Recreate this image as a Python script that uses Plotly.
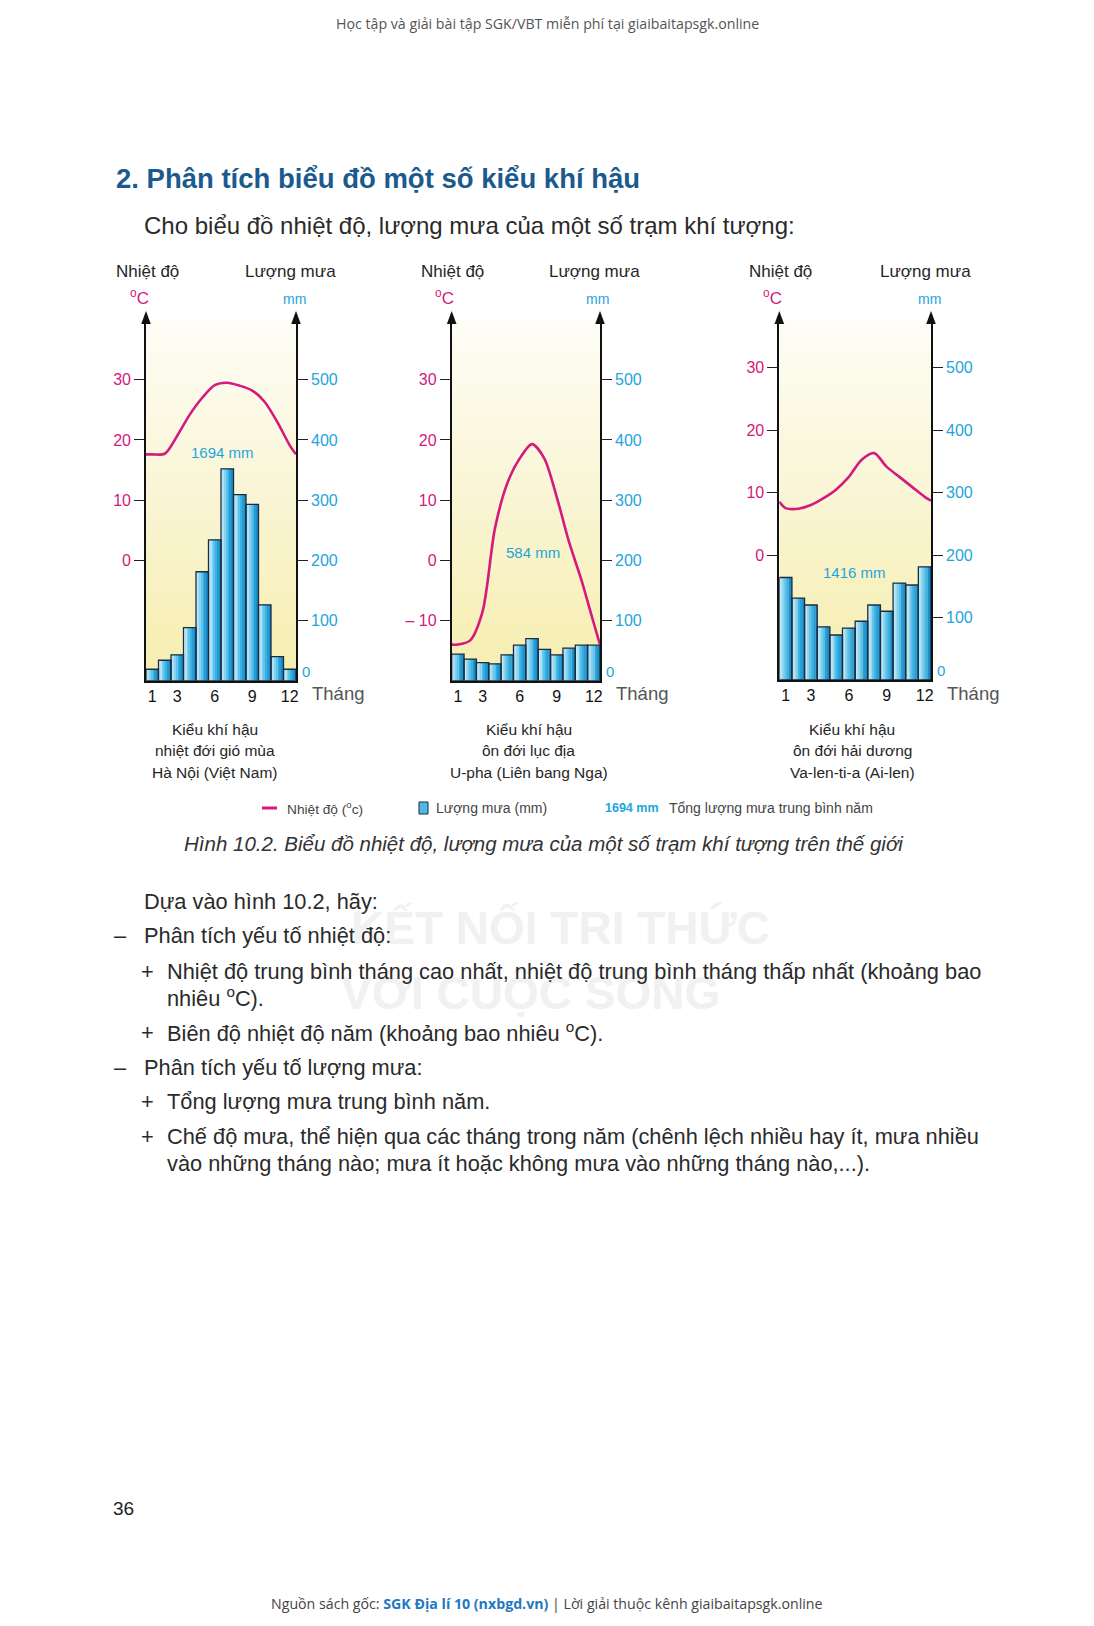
import plotly.graph_objects as go

W, H = 1094, 1626          # page (viewport) size
OFF = 8                    # default body margin of the html page
FW, FH = W - OFF, H - 2 * OFF   # figure size so that the page does not overflow

# ---------------- data ----------------
months = list(range(1, 13))
month_ticks = [1, 3, 6, 9, 12]
rain_ticks = [100, 200, 300, 400, 500]

hanoi_temp = [17.6, 17.7, 20.7, 24.2, 27.0, 29.1, 29.5, 29.0, 28.2, 26.3, 23.0, 19.1]
hanoi_temp_edges = [17.6, 17.6]
hanoi_rain = [19, 34, 43, 88, 181, 234, 352, 309, 293, 126, 40, 19]
hanoi_total = 1694
hanoi_temp_ticks = [0, 10, 20, 30]

ufa_temp = [-14.0, -13.3, -8.5, 5.3, 12.8, 16.9, 19.3, 16.9, 10.5, 3.0, -3.3, -10.5]
ufa_temp_edges = [-14.0, -14.0]
ufa_rain = [44, 36, 30, 28, 43, 59, 70, 52, 43, 54, 59, 59]
ufa_total = 584
ufa_temp_ticks = [-10, 0, 10, 20, 30]

valentia_temp = [7.5, 7.4, 8.0, 9.1, 10.5, 12.5, 15.2, 16.3, 14.1, 12.5, 10.9, 9.3]
valentia_temp_edges = [8.5, 8.7]
valentia_rain = [164, 131, 120, 85, 72, 83, 94, 120, 110, 155, 152, 181]
valentia_total = 1416
valentia_temp_ticks = [0, 10, 20, 30]

climate_types = ["nhiệt đới gió mùa", "ôn đới lục địa", "ôn đới hải dương"]
station_names = ["Hà Nội (Việt Nam)", "U-pha (Liên bang Nga)", "Va-len-ti-a (Ai-len)"]

# ---------------- styles / layout ----------------
ARIAL = "Liberation Sans, Arial, sans-serif"
OPEN = "Open Sans, Noto Sans, sans-serif"
MAGENTA = "#d4197f"
CYAN = "#1ea5dc"
DARK = "#262626"
BAR_SHADES = ["#d2f1fc", "#aee3f7", "#86d3f1", "#5ec2ea", "#3bb0e2", "#229dd6", "#1a8cc8"]
BAR_EDGE = "#1c2b3f"


def px(x):
    return (x - OFF) / FW


def py(y):
    return 1 - (y - OFF) / FH


stations = [
    dict(temp=hanoi_temp, edges=hanoi_temp_edges, rain=hanoi_rain, total=hanoi_total,
         tticks=hanoi_temp_ticks, left=146, right=296, base=680.7, top=320, deg=6.02,
         total_xy=(222, 452), cap_x=214.6),
    dict(temp=ufa_temp, edges=ufa_temp_edges, rain=ufa_rain, total=ufa_total,
         tticks=ufa_temp_ticks, left=451.7, right=600, base=680.7, top=320, deg=6.02,
         total_xy=(532.5, 552), cap_x=528.6),
    dict(temp=valentia_temp, edges=valentia_temp_edges, rain=valentia_rain, total=valentia_total,
         tticks=valentia_temp_ticks, left=779.3, right=931, base=680, top=320, deg=6.25,
         total_xy=(854, 573), cap_x=852),
]

fig = go.Figure()
layout = dict(
    width=FW, height=FH, autosize=False,
    margin=dict(l=0, r=0, t=0, b=0),
    paper_bgcolor="white", plot_bgcolor="rgba(0,0,0,0)",
    showlegend=False, barmode="overlay", template="none",
)
annotations = []
shapes = []

# watermark (drawn first, behind text)
annotations.append(dict(x=px(560), y=py(928), text="<b>KẾT NỐI TRI THỨC</b>",
                        font=dict(family=ARIAL, size=46, color="#f1f1f1")))
annotations.append(dict(x=px(530), y=py(993), text="<b>VỚI CUỘC SỐNG</b>",
                        font=dict(family=ARIAL, size=46, color="#f1f1f1")))

for i, s in enumerate(stations):
    xa = "x" if i == 0 else f"x{i+1}"
    by = "y" if i == 0 else f"y{3*i+1}"
    ry = f"y{3*i+2}"
    ty = f"y{3*i+3}"
    xkey = "xaxis" if i == 0 else f"xaxis{i+1}"
    bkey = "yaxis" if i == 0 else f"yaxis{3*i+1}"
    rkey = f"yaxis{3*i+2}"
    tkey = f"yaxis{3*i+3}"

    span_px = s["base"] - s["top"]
    temp_top = -20 + span_px / s["deg"]
    rain_top = span_px / (s["deg"] / 10)

    # background gradient of plot area (on the hidden base axis, underneath)
    fig.add_trace(go.Scatter(
        x=[0.5, 12.5, 12.5, 0.5, 0.5], y=[0, 0, rain_top, rain_top, 0],
        fill="toself", mode="lines", line=dict(width=0),
        fillgradient=dict(type="vertical",
                          colorscale=[[0, "#f6eeae"], [0.45, "#f9f4d0"], [1, "#fefdf6"]]),
        hoverinfo="skip", xaxis=xa, yaxis=by))

    # rainfall bars (striped to imitate the horizontal gradient)
    n = len(BAR_SHADES)
    for k, c in enumerate(BAR_SHADES):
        fig.add_trace(go.Bar(x=months, y=s["rain"], width=1 / n, offset=-0.5 + k / n,
                             marker=dict(color=c, line=dict(width=0)),
                             xaxis=xa, yaxis=ry, hoverinfo="skip"))
    fig.add_trace(go.Bar(x=months, y=s["rain"], width=1, offset=-0.5,
                         marker=dict(color="rgba(0,0,0,0)", line=dict(color=BAR_EDGE, width=1.3)),
                         xaxis=xa, yaxis=ry))

    # temperature line
    tx = [0.5] + months + [12.5]
    tv = [s["edges"][0]] + s["temp"] + [s["edges"][1]]
    fig.add_trace(go.Scatter(x=tx, y=tv, mode="lines",
                             line=dict(color=MAGENTA, width=2.6, shape="spline", smoothing=0.8),
                             xaxis=xa, yaxis=ty))

    layout[xkey] = dict(domain=[px(s["left"]), px(s["right"])], anchor=by, range=[0.5, 12.5],
                        tickvals=month_ticks, ticktext=[str(m) for m in month_ticks],
                        showline=True, linecolor="#111", linewidth=1.7, ticks="",
                        showgrid=False, zeroline=False, automargin=False,
                        tickfont=dict(family=ARIAL, size=16, color="#111"))
    layout[bkey] = dict(domain=[py(s["base"]), py(s["top"])], anchor=xa, visible=False,
                        range=[0, rain_top], showgrid=False, zeroline=False)
    layout[rkey] = dict(overlaying=by, anchor=xa, side="right",
                        range=[0, rain_top], tickvals=rain_ticks,
                        ticktext=[str(v) for v in rain_ticks],
                        ticks="outside", ticklen=10, tickwidth=1.4, tickcolor="#222",
                        showline=True, linecolor="#111", linewidth=1.7,
                        showgrid=False, zeroline=False, automargin=False,
                        tickfont=dict(family=ARIAL, size=16, color=CYAN))
    layout[tkey] = dict(overlaying=by, anchor=xa, side="left",
                        range=[-20, temp_top], tickvals=s["tticks"],
                        ticktext=[("– " + str(-v)) if v < 0 else str(v) for v in s["tticks"]],
                        ticks="outside", ticklen=10, tickwidth=1.4, tickcolor="#222",
                        showline=True, linecolor="#111", linewidth=1.7,
                        showgrid=False, zeroline=False, automargin=False,
                        tickfont=dict(family=ARIAL, size=16, color=MAGENTA))

    L, R, B = s["left"], s["right"], s["base"]
    # arrow heads
    for ax in (L, R):
        shapes.append(dict(type="path", xref="paper", yref="paper",
                           path=f"M {px(ax-4.8)},{py(324)} L {px(ax)},{py(311)} L {px(ax+4.8)},{py(324)} Z",
                           fillcolor="#111", line=dict(width=0)))
    # axis titles and labels
    annotations += [
        dict(x=px(L + 1), y=py(271), text="Nhiệt độ", font=dict(family=ARIAL, size=17, color=DARK)),
        dict(x=px(R - 6), y=py(271), text="Lượng mưa", font=dict(family=ARIAL, size=17, color=DARK)),
        dict(x=px(L - 7), y=py(297), text="<sup>o</sup>C", font=dict(family=ARIAL, size=17, color=MAGENTA)),
        dict(x=px(R - 2), y=py(299), text="mm", font=dict(family=ARIAL, size=14, color=CYAN)),
        dict(x=px(R + 4), y=py(B + 1), text="0", xanchor="left", yanchor="bottom",
             font=dict(family=ARIAL, size=15, color=CYAN)),
        dict(x=px(R + 14), y=py(B + 13), text="Tháng", xanchor="left",
             font=dict(family=ARIAL, size=18.5, color="#555")),
        dict(x=px(s["total_xy"][0]), y=py(s["total_xy"][1]), text=f"{s['total']} mm",
             font=dict(family=ARIAL, size=15, color=CYAN)),
        dict(x=px(s["cap_x"]), y=py(729), text="Kiểu khí hậu", font=dict(family=ARIAL, size=15.5, color=DARK)),
        dict(x=px(s["cap_x"]), y=py(750.5), text=climate_types[i], font=dict(family=ARIAL, size=15.5, color=DARK)),
        dict(x=px(s["cap_x"]), y=py(772), text=station_names[i], font=dict(family=ARIAL, size=15.5, color=DARK)),
    ]

# legend row
shapes.append(dict(type="line", xref="paper", yref="paper", x0=px(262), x1=px(277), y0=py(808), y1=py(808),
                   line=dict(color=MAGENTA, width=3)))
shapes.append(dict(type="rect", xref="paper", yref="paper", x0=px(419), x1=px(428), y0=py(814), y1=py(802),
                   fillcolor="#4fb9e6", line=dict(color=BAR_EDGE, width=1)))
annotations += [
    dict(x=px(285), y=py(808), xanchor="left", text="Nhiệt độ (<sup>o</sup>c)",
         font=dict(family=ARIAL, size=13.7, color="#444")),
    dict(x=px(434), y=py(808), xanchor="left", text="Lượng mưa (mm)",
         font=dict(family=ARIAL, size=14, color="#444")),
    dict(x=px(603), y=py(808), xanchor="left", text=f"<b>{hanoi_total} mm</b>",
         font=dict(family=ARIAL, size=12.5, color=CYAN)),
    dict(x=px(667), y=py(808), xanchor="left", text="Tổng lượng mưa trung bình năm",
         font=dict(family=ARIAL, size=14, color="#444")),
    dict(x=px(544), y=py(843), text="<i>Hình 10.2. Biểu đồ nhiệt độ, lượng mưa của một số trạm khí tượng trên thế giới</i>",
         font=dict(family=ARIAL, size=20.5, color="#333")),
]

# page texts
BODY = dict(family=ARIAL, size=21.8, color="#2a2a2a")
annotations += [
    dict(x=px(547), y=py(24), text="Học tập và giải bài tập SGK/VBT miễn phí tại giaibaitapsgk.online",
         font=dict(family=OPEN, size=14.2, color="#555")),
    dict(x=px(114), y=py(179), xanchor="left", text="<b>2. Phân tích biểu đồ một số kiểu khí hậu</b>",
         font=dict(family=ARIAL, size=27.5, color="#1b5a8e")),
    dict(x=px(142), y=py(225), xanchor="left", text="Cho biểu đồ nhiệt độ, lượng mưa của một số trạm khí tượng:",
         font=dict(family=ARIAL, size=24, color="#2a2a2a")),
    dict(x=px(142), y=py(901), xanchor="left", text="Dựa vào hình 10.2, hãy:", font=BODY),
    dict(x=px(112), y=py(936), xanchor="left", text="–", font=BODY),
    dict(x=px(142), y=py(936), xanchor="left", text="Phân tích yếu tố nhiệt độ:", font=BODY),
    dict(x=px(139), y=py(971), xanchor="left", text="+", font=BODY),
    dict(x=px(165), y=py(971), xanchor="left",
         text="Nhiệt độ trung bình tháng cao nhất, nhiệt độ trung bình tháng thấp nhất (khoảng bao", font=BODY),
    dict(x=px(165), y=py(997), xanchor="left", text="nhiêu <sup>o</sup>C).", font=BODY),
    dict(x=px(139), y=py(1032), xanchor="left", text="+", font=BODY),
    dict(x=px(165), y=py(1032), xanchor="left", text="Biên độ nhiệt độ năm (khoảng bao nhiêu <sup>o</sup>C).", font=BODY),
    dict(x=px(112), y=py(1067), xanchor="left", text="–", font=BODY),
    dict(x=px(142), y=py(1067), xanchor="left", text="Phân tích yếu tố lượng mưa:", font=BODY),
    dict(x=px(139), y=py(1101), xanchor="left", text="+", font=BODY),
    dict(x=px(165), y=py(1101), xanchor="left", text="Tổng lượng mưa trung bình năm.", font=BODY),
    dict(x=px(139), y=py(1136), xanchor="left", text="+", font=BODY),
    dict(x=px(165), y=py(1136), xanchor="left",
         text="Chế độ mưa, thể hiện qua các tháng trong năm (chênh lệch nhiều hay ít, mưa nhiều", font=BODY),
    dict(x=px(165), y=py(1163), xanchor="left",
         text="vào những tháng nào; mưa ít hoặc không mưa vào những tháng nào,...).", font=BODY),
    dict(x=px(111), y=py(1508), xanchor="left", text="36", font=dict(family=ARIAL, size=19, color="#222")),
    dict(x=px(547), y=py(1603),
         text="Nguồn sách gốc: <b><span style='color:#1f78c1'>SGK Địa lí 10 (nxbgd.vn)</span></b> | Lời giải thuộc kênh giaibaitapsgk.online",
         font=dict(family=OPEN, size=14.2, color="#444")),
]

for a in annotations:
    a.setdefault("xref", "paper")
    a.setdefault("yref", "paper")
    a.setdefault("showarrow", False)
    a.setdefault("xanchor", "center")
    a.setdefault("yanchor", "middle")

layout["annotations"] = annotations
layout["shapes"] = shapes
fig.update_layout(**layout)
fig.write_html("out.html")
